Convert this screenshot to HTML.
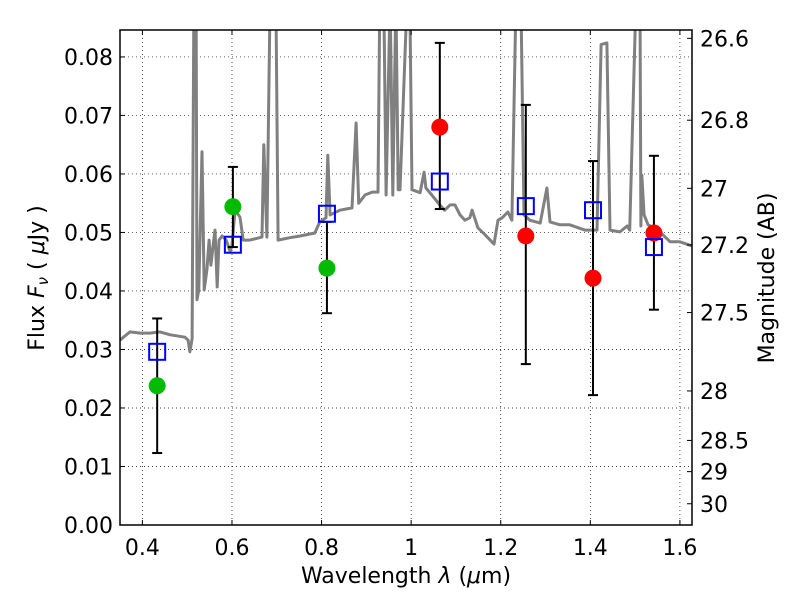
<!DOCTYPE html>
<html><head><meta charset="utf-8"><style>
body{margin:0;background:#fff}
svg{display:block;font-family:"DejaVu Sans","Liberation Sans",sans-serif}
</style></head><body>
<svg id="c" width="800" height="600"></svg>
<script>
const specLam=[0.350,0.372,0.395,0.417,0.439,0.462,0.495,0.502,0.506,0.511,0.515,0.520,0.522,0.526,0.533,0.538,0.544,0.549,0.553,0.558,0.562,0.567,0.571,0.578,0.587,0.596,0.600,0.607,0.618,0.625,0.640,0.667,0.671,0.678,0.685,0.698,0.703,0.729,0.752,0.785,0.796,0.810,0.814,0.819,0.841,0.868,0.877,0.883,0.897,0.913,0.926,0.930,0.939,0.944,0.953,0.959,0.966,0.971,0.975,0.991,0.997,1.002,1.020,1.029,1.033,1.046,1.064,1.075,1.087,1.098,1.109,1.120,1.131,1.136,1.149,1.165,1.185,1.194,1.203,1.216,1.225,1.234,1.245,1.252,1.265,1.288,1.303,1.310,1.332,1.354,1.388,1.415,1.424,1.437,1.444,1.466,1.482,1.488,1.502,1.511,1.513,1.515,1.520,1.529,1.551,1.578,1.600,1.627];
const specFlux=[.0316,.0330,.0328,.0328,.0330,.0325,.0321,.0316,.0296,.0318,.09,.09,.0385,.0402,.0638,.0402,.0436,.0487,.0444,.0479,.0504,.0407,.0487,.0494,.0487,.0467,.0479,.0538,.0526,.0487,.0487,.0492,.0650,.0492,.09,.09,.0487,.0491,.0494,.0499,.0518,.0525,.0632,.0530,.0538,.0542,.0687,.0550,.0564,.0569,.0569,.09,.09,.0564,.09,.0564,.09,.0573,.0573,.09,.09,.0573,.0568,.0603,.0576,.0564,.0547,.0538,.0547,.0547,.0530,.0521,.0525,.0538,.0508,.0496,.0480,.0521,.0525,.0535,.0521,.09,.09,.0530,.0521,.0516,.0576,.0518,.0513,.0513,.0504,.0504,.0821,.0824,.0504,.0501,.0511,.0504,.09,.09,.0511,.0598,.0530,.0513,.0504,.0484,.0484,.0477];
const bandLam=[0.433,0.602,0.812,1.064,1.256,1.406,1.542];
const modelFlux=[0.0296,0.0479,0.0532,0.0587,0.0545,0.0538,0.0475];
const obsFlux=[0.0238,0.0544,0.0439,0.0680,0.0494,0.0422,0.0499];
const errHi=[0.0353,0.0612,0.0518,0.0824,0.0718,0.0622,0.0631];
const errLo=[0.0123,0.0475,0.0362,0.0540,0.0275,0.0222,0.0368];
const obsColor=['#00bb00','#00bb00','#00bb00','#ff0000','#ff0000','#ff0000','#ff0000'];
const xTicks=[0.4,0.6,0.8,1.0,1.2,1.4,1.6];
const xTickLabels=['0.4','0.6','0.8','1','1.2','1.4','1.6'];
const yTicks=[0,0.01,0.02,0.03,0.04,0.05,0.06,0.07,0.08];
const yTickLabels=['0.00','0.01','0.02','0.03','0.04','0.05','0.06','0.07','0.08'];
const magTicks=[26.6,26.8,27,27.2,27.5,28,28.5,29,30];
const magLabels=['26.6','26.8','27','27.2','27.5','28','28.5','29','30'];

const L=120,R=692,T=30,B=525,X0=0.35,X1=1.627,Y0=0,Y1=0.0846;
const sx=v=>L+(v-X0)/(X1-X0)*(R-L);
const sy=v=>B-(v-Y0)/(Y1-Y0)*(B-T);
const NS='http://www.w3.org/2000/svg',svg=document.getElementById('c');
function mk(t,a,p){const e=document.createElementNS(NS,t);for(const k in a)e.setAttribute(k,a[k]);(p||svg).appendChild(e);return e;}
const defs=mk('defs',{});const cp=mk('clipPath',{id:'pc'},defs);mk('rect',{x:L,y:T,width:R-L,height:B-T},cp);
const grid=mk('g',{stroke:'#000','stroke-width':0.7,'stroke-dasharray':'1,3'});

xTicks.forEach(v=>mk('line',{x1:sx(v),x2:sx(v),y1:T,y2:B},grid));
yTicks.forEach(v=>mk('line',{x1:L,x2:R,y1:sy(v),y2:sy(v)},grid));
const plot=mk('g',{'clip-path':'url(#pc)'});
let d='';specLam.forEach((l,i)=>{d+=(i?'L':'M')+sx(l).toFixed(1)+','+sy(specFlux[i]).toFixed(1);});
const sp=mk('path',{d:d,fill:'none',stroke:'#808080','stroke-width':3,'stroke-linejoin':'round'},plot);

bandLam.forEach((l,i)=>{
 const g=mk('g',{},plot);
 
 const x=sx(l);
 mk('line',{x1:x,x2:x,y1:sy(errHi[i]),y2:sy(errLo[i]),stroke:'#000','stroke-width':2},g);
 mk('line',{x1:x-5,x2:x+5,y1:sy(errHi[i]),y2:sy(errHi[i]),stroke:'#000','stroke-width':2},g);
 mk('line',{x1:x-5,x2:x+5,y1:sy(errLo[i]),y2:sy(errLo[i]),stroke:'#000','stroke-width':2},g);
 const c=mk('circle',{cx:x,cy:sy(obsFlux[i]),r:8.5,fill:obsColor[i]},plot);
 
 const s=mk('rect',{x:x-8,y:sy(modelFlux[i])-8,width:16,height:16,fill:'none',stroke:'#0000ff','stroke-width':2},plot);
 
});
const ax=mk('rect',{x:L,y:T,width:R-L,height:B-T,fill:'none',stroke:'#000','stroke-width':1.5});

const tk=mk('g',{stroke:'#000','stroke-width':1});
xTicks.forEach((v,i)=>{mk('line',{x1:sx(v),x2:sx(v),y1:B,y2:B-5},tk);mk('line',{x1:sx(v),x2:sx(v),y1:T,y2:T+5},tk);
 const t=mk('text',{x:sx(v),y:B+30,'text-anchor':'middle','font-size':22,stroke:'none'});t.textContent=xTickLabels[i];
 });
yTicks.forEach((v,i)=>{mk('line',{x1:L,x2:L+5,y1:sy(v),y2:sy(v)},tk);
 const t=mk('text',{x:L-7,y:sy(v)+8,'text-anchor':'end','font-size':22,stroke:'none'});t.textContent=yTickLabels[i];
 });
magTicks.forEach((m,i)=>{const f=Math.pow(10,(23.9-m)/2.5);const y=sy(f);
 mk('line',{x1:R,x2:R-5,y1:y,y2:y},tk);
 const t=mk('text',{x:R+8,y:y+8,'font-size':22,stroke:'none'});t.textContent=magLabels[i];
 });
</script>
<svg style="position:absolute;left:0;top:0" width="800" height="600" font-family="DejaVu Sans, Liberation Sans, sans-serif">
<text x="406" y="583" text-anchor="middle" font-size="22">Wavelength  <tspan font-style="italic">λ</tspan> (<tspan font-style="italic">μ</tspan>m)</text>
<text transform="translate(44,278) rotate(-90)" text-anchor="middle" font-size="22">Flux  <tspan font-style="italic">F</tspan><tspan font-style="italic" font-size="15" dy="4">ν</tspan><tspan dy="-4">  (  </tspan><tspan font-style="italic">μ</tspan>Jy )</text>
<text transform="translate(774,278) rotate(-90)" text-anchor="middle" font-size="22">Magnitude (AB)</text>
</svg>
</body></html>
